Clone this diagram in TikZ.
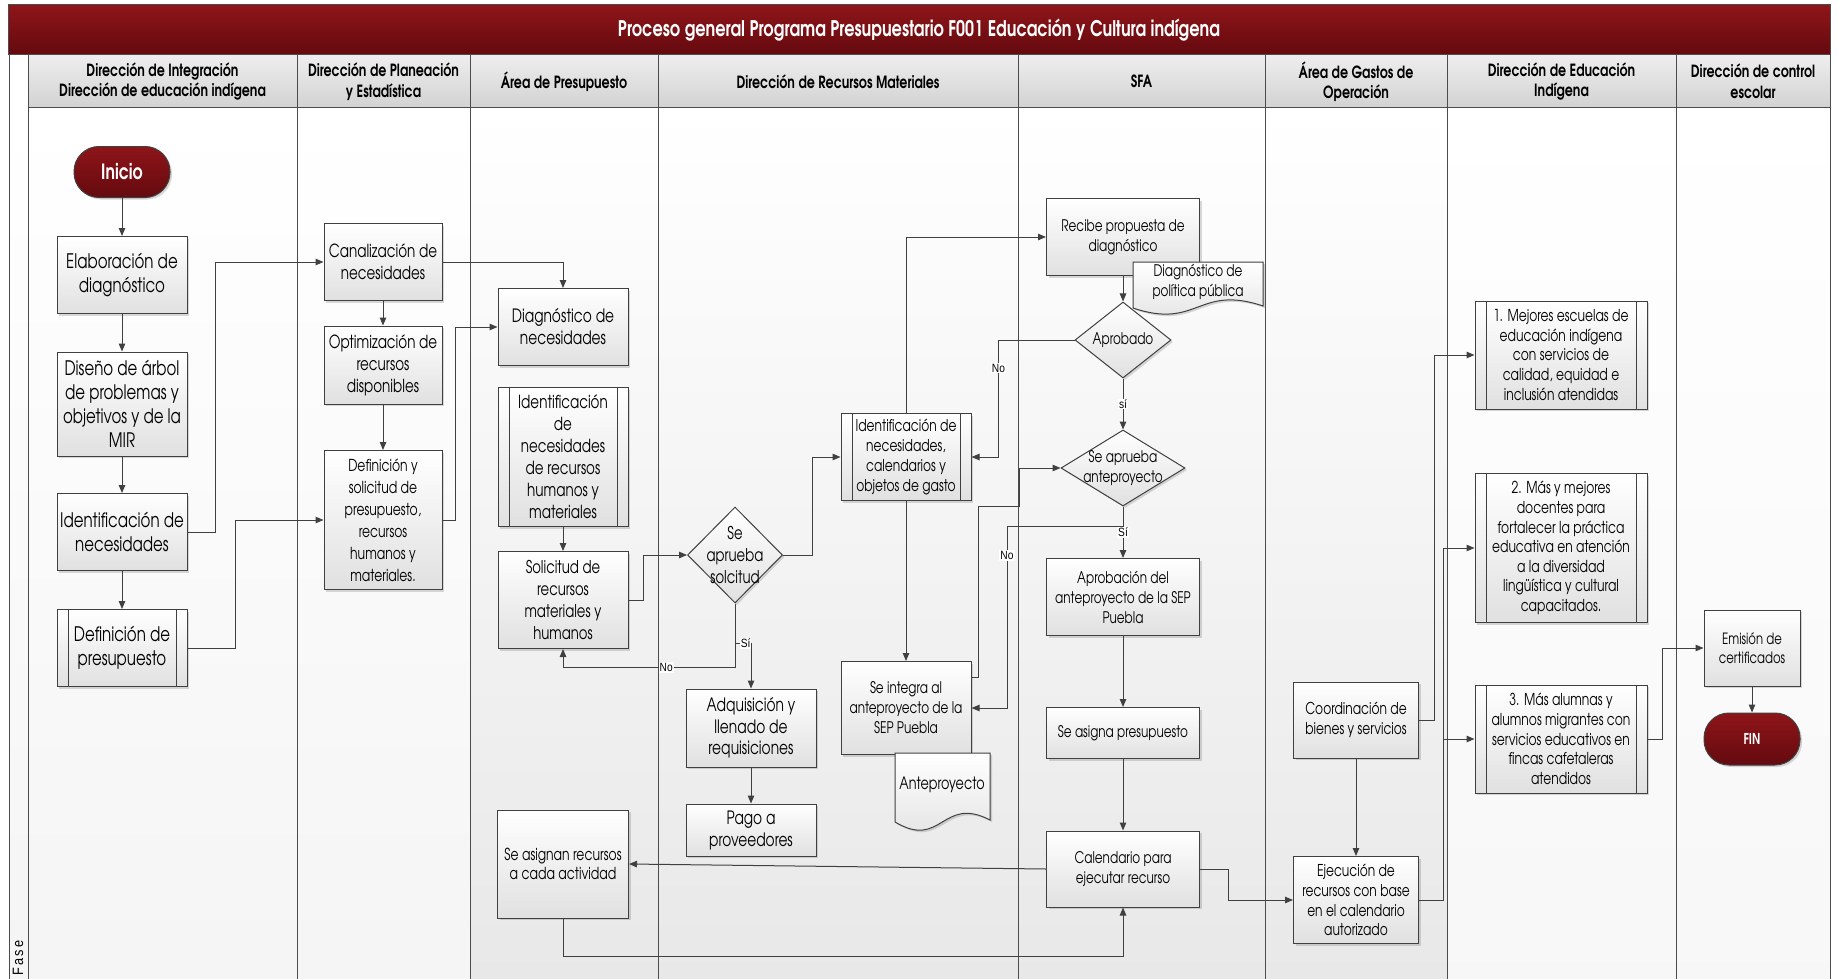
\documentclass[tikz,border=0pt]{standalone}
\usepackage{fontspec}
\setmainfont{texgyreadventor}[Extension=.otf, UprightFont=*-regular, BoldFont=*-bold, ItalicFont=*-italic, BoldItalicFont=*-bolditalic, FakeStretch=0.75]
\newfontfamily\lblfont{Liberation Sans}[FakeStretch=0.85]
\usetikzlibrary{shapes.geometric,arrows.meta,calc,shadows}

\definecolor{lnc}{HTML}{404040}
\definecolor{redtop}{HTML}{8E1519}
\definecolor{redbot}{HTML}{640A0F}
\definecolor{hdrtop}{HTML}{EEEEEE}
\definecolor{hdrbot}{HTML}{D2D2D2}

\newcommand{\fszN}{\fontsize{16}{20}\selectfont}
\newcommand{\fszM}{\fontsize{18}{22}\selectfont}
\newcommand{\fszL}{\fontsize{20}{24}\selectfont}
\newcommand{\fszS}{\fontsize{16.3}{19.8}\selectfont}
\newcommand{\fszR}{\fontsize{16.4}{19.6}\selectfont}

\tikzset{
  shadowed/.style={drop shadow={shadow xshift=2pt, shadow yshift=-2pt, opacity=0.25, fill=black!60}},
  sz/.style 2 args={minimum width=#1pt, minimum height=#2pt},
  box/.style={rectangle, draw=lnc, line width=1pt, top color=white, bottom color=black!12,
    align=center, inner sep=1pt, font=\fszN, shadowed},
  subproc/.style={box, path picture={
      \draw[lnc, line width=1pt]
        ([xshift=11pt]path picture bounding box.north west) -- ([xshift=11pt]path picture bounding box.south west)
        ([xshift=-11pt]path picture bounding box.north east) -- ([xshift=-11pt]path picture bounding box.south east);}},
  dec/.style={diamond, draw=lnc, line width=1pt, top color=white, bottom color=black!12,
    inner sep=0pt, shadowed},
  dtext/.style={align=center, font=\fszN},
  term/.style={rectangle, rounded corners=25pt, draw=lnc, line width=1pt, top color=redtop, bottom color=redbot,
    text=white, font=\bfseries, shadowed},
  docsh/.style={draw=lnc, line width=1pt, top color=white, bottom color=black!12, shadowed},
  doctext/.style={align=center, font=\fszN, inner sep=0pt},
  lane/.style={draw=black!70, line width=1pt},
  hdr/.style={rectangle, draw=black!70, line width=1pt, top color=hdrtop, bottom color=hdrbot,
    align=center, font=\bfseries\fontsize{16.8}{20.5}\selectfont},
  titlebar/.style={rectangle, draw=black!70, line width=1pt, top color=redtop, bottom color=redbot,
    text=white, font=\bfseries\fontsize{21.5}{24}\selectfont},
  ln/.style={draw=lnc, line width=1pt},
  arr/.style={ln, -{Triangle[length=8pt,width=6.5pt]}},
  lbl/.style={fill=white, inner sep=1pt, text=black, font=\lblfont\fontsize{12}{12}\selectfont},
}

\begin{document}
\begin{tikzpicture}[x=1pt,y=-1pt]
\useasboundingbox (0,0) rectangle (1838,979);
\fill[white] (0,0) rectangle (1838,979);
% body background
\path[top color=white, bottom color=black!4] (9,108) rectangle (470,979);
\path[top color=white, bottom color=black!9] (470,108) rectangle (1447,979);
\path[top color=white, bottom color=black!3] (1447,108) rectangle (1830,979);
% left strip
\draw[lane] (9,55) -- (9,979) (28,55) -- (28,979);
\foreach \x in {297,470,658,1018,1265,1447,1676,1830} \draw[lane] (\x,108) -- (\x,979);

% title
\node[titlebar, sz={1822}{50}] (title) at (919,30) {Proceso general Programa Presupuestario F001 Educación y Cultura indígena};

% headers
\node[hdr, sz={269}{53}] (h1) at (162.5,81.5) {Dirección de Integración\\Dirección de educación indígena};
\node[hdr, sz={173}{53}] (h2) at (383.5,81.5) {Dirección de Planeación\\y Estadística};
\node[hdr, sz={188}{53}] (h3) at (564,81.5) {Área de Presupuesto};
\node[hdr, sz={360}{53}] (h4) at (838,81.5) {Dirección de Recursos Materiales};
\node[hdr, sz={247}{53}] (h5) at (1141.5,81.5) {SFA};
\node[hdr, sz={182}{53}] (h6) at (1356,81.5) {Área de Gastos de\\Operación};
\node[hdr, sz={229}{53}] (h7) at (1561.5,81.5) {Dirección de Educación\\Indígena};
\node[hdr, sz={154}{53}] (h8) at (1753,81.5) {Dirección de control\\escolar};

\node[rotate=90, font=\lblfont\fontsize{15}{15}\selectfont] (fase) at (18,958) {F\,a\,s\,e};

% lane 1
\node[term, sz={96}{51}, font=\bfseries\fontsize{21}{24}\selectfont] (ini) at (122,172) {Inicio};
\node[box, sz={130}{77}, font=\fszL] (ela) at (122,275) {Elaboración de\\diagnóstico};
\node[box, sz={130}{104}, font=\fszL] (dis) at (122,404) {Diseño de árbol\\de problemas y\\objetivos y de la\\MIR};
\node[box, sz={130}{77}, font=\fszL] (idn) at (122,532) {Identificación de\\necesidades};
\node[subproc, sz={130}{77}, font=\fszL] (defp) at (122,648) {Definición de\\presupuesto};

% lane 2
\node[box, sz={118}{77}, font=\fszM] (can) at (383,262) {Canalización de\\necesidades};
\node[box, sz={118}{78}, font=\fszM] (opt) at (383,365) {Optimización de\\recursos\\disponibles};
\node[box, sz={118}{139}, font=\fontsize{16.5}{22}\selectfont] (dys) at (383,520) {Definición y\\solicitud de\\presupuesto,\\recursos\\humanos y\\materiales.};

% lane 3
\node[box, sz={130}{77}, font=\fontsize{18.4}{22}\selectfont] (diag) at (563,327) {Diagnóstico de\\necesidades};
\node[subproc, sz={130}{139}, font=\fszM] (idrh) at (563,457) {Identificación\\de\\necesidades\\de recursos\\humanos y\\materiales};
\node[box, sz={130}{97}, font=\fontsize{17.6}{22}\selectfont] (sol) at (563,600) {Solicitud de\\recursos\\materiales y\\humanos};
\node[box, sz={131}{108}, font=\fontsize{16.5}{19}\selectfont] (sasr) at (563,864) {Se asignan recursos\\a cada actividad};

% lane 4
\node[dec, sz={95}{96}, label={[dtext, font=\fontsize{17.6}{22}\selectfont]center:{Se\\aprueba\\solcitud}}] (d1) at (735,555) {};
\node[box, sz={130}{78}, font=\fontsize{18.4}{21.5}\selectfont] (adq) at (751,728) {Adquisición y\\llenado de\\requisiciones};
\node[box, sz={130}{52}, font=\fontsize{18.4}{22}\selectfont] (pago) at (751,830) {Pago a\\proveedores};
\node[subproc, sz={130}{87}, font=\fszS] (idc) at (906,457) {Identificación de\\necesidades,\\calendarios y\\objetos de gasto};
\node[box, sz={130}{93}] (sint) at (906,708) {Se integra al\\anteproyecto de la\\SEP Puebla};
\path[docsh] (895,753) -- (990,753) -- (990,820) .. controls (942,795) and (942,850) .. (895,822) -- cycle;
\node[doctext, font=\fontsize{17}{20}\selectfont] (antp) at (942,785) {Anteproyecto};

% lane 5
\node[box, sz={153}{77}] (rec) at (1123,237) {Recibe propuesta de\\diagnóstico};
\path[docsh] (1133,262) -- (1263,262) -- (1263,306) .. controls (1198,284) and (1198,330) .. (1133,308) -- cycle;
\node[doctext] (dpp) at (1198,282) {Diagnóstico de\\política pública};
\node[dec, sz={96}{76}, label={[dtext]center:{Aprobado}}] (apr) at (1123,340) {};
\node[dec, sz={124}{76}, label={[dtext]center:{Se aprueba\\anteproyecto}}] (sap) at (1123,468) {};
\node[box, sz={153}{77}] (aprob) at (1123,597) {Aprobación del\\anteproyecto de la SEP\\Puebla};
\node[box, sz={153}{51}] (sasig) at (1123,733) {Se asigna presupuesto};
\node[box, sz={153}{76}] (cal) at (1123,869) {Calendario para\\ejecutar recurso};

% lane 6
\node[box, sz={125}{76}, font=\fszS] (coord) at (1356,720) {Coordinación de\\bienes y servicios};
\node[box, sz={125}{87}, font=\fszS] (eje) at (1356,900) {Ejecución de\\recursos con base\\en el calendario\\autorizado};

% lane 7
\node[subproc, sz={172}{108}, font=\fszR] (b1) at (1561,355) {1. Mejores escuelas de\\educación indígena\\con servicios de\\calidad, equidad e\\inclusión atendidas};
\node[subproc, sz={172}{149}, font=\fszR] (b2) at (1561,548) {2. Más y mejores\\docentes para\\fortalecer la práctica\\educativa en atención\\a la diversidad\\lingüística y cultural\\capacitados.};
\node[subproc, sz={172}{108}, font=\fszR] (b3) at (1561,739) {3. Más alumnas y\\alumnos migrantes con\\servicios educativos en\\fincas cafetaleras\\atendidos};

% lane 8
\node[box, sz={96}{76}, font=\fontsize{15.5}{19.5}\selectfont] (emi) at (1752,648) {Emisión de\\certificados};
\node[term, sz={96}{52}, font=\bfseries\fontsize{15}{18}\selectfont] (fin) at (1752,739) {FIN};

% connectors
\draw[arr] (ini) -- (ela);
\draw[arr] (ela) -- (dis);
\draw[arr] (dis) -- (idn);
\draw[arr] (idn) -- (defp);
\draw[arr] (idn.east) -- ++(28,0) |- (can.west);
\draw[arr] (defp.east) -- ++(48,0) |- (dys.west);
\draw[arr] (can) -- (opt);
\draw[arr] (opt) -- (dys);
\draw[arr] (can.east) -| (diag.north);
\draw[arr] (dys.east) -- ++(13,0) |- (diag.west);
\draw[arr] (idrh) -- (sol);
\draw[arr] (sol.east) -- ++(15,0) |- (d1.west);
\draw[arr] (d1.south) -- ++(0,64) -| node[lbl, pos=0.2] {No} (sol.south);
\draw[arr] (d1.south) -- ++(0,40) -| node[lbl, pos=0.33] {Sí} (adq.north);
\draw[arr] (d1.east) -- ++(29,0) |- (idc.west);
\draw[arr] (adq) -- (pago);
\draw[arr] (idc.north) |- (rec.west);
\draw[arr] (idc) -- (sint);
\draw[arr] (rec) -- (apr);
\draw[arr] (apr.west) -- ++(-76,0) |- node[lbl, pos=0.12] {No} (idc.east);
\draw[arr] (apr) -- node[lbl] {sí} (sap);
\draw[arr] ($(sint.north east)+(0,16)$) -| (978,506) -| (1019,468) -- (sap.west);
\draw[arr] (sap.south) -- ++(0,20) -- ++(-116,0) |- node[lbl, pos=0.08] {No} (sint.east);
\draw[arr] (sap) -- node[lbl, pos=0.5] {Sí} (aprob);
\draw[arr] (aprob) -- (sasig);
\draw[arr] (sasig) -- (cal);
\draw[arr] (cal.west) -- (sasr.east);
\draw[arr] (sasr.south) -- ++(0,38) -| (cal.south);
\draw[arr] (cal.east) -- ++(28,0) |- (eje.west);
\draw[arr] (coord) -- (eje);
\draw[arr] (coord.east) -- ++(15,0) |- (b1.west);
\draw[arr] (eje.east) -- ++(24,0) |- (b2.west);
\draw[arr] (eje.east) -- ++(24,0) |- (b3.west);
\draw[arr] (b3.east) -- ++(15,0) |- (emi.west);
\draw[arr] (emi) -- (fin);
\end{tikzpicture}
\end{document}
